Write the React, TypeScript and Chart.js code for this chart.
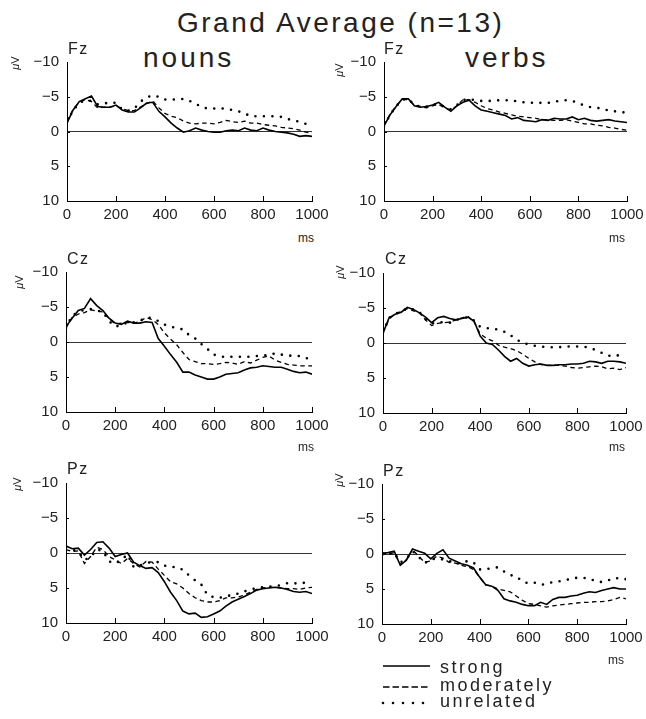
import React, { useEffect, useRef } from "react";
import { Chart, registerables } from "chart.js";

Chart.register(...registerables);
Chart.defaults.font.family = "'Liberation Sans', Arial, sans-serif";

// ---------- DATA ----------
const TIMES = [
  0, 25, 50, 75, 100, 125, 150, 175, 200, 225, 250, 275, 300, 325, 350, 375, 400, 425, 450, 475,
  500, 525, 550, 575, 600, 625, 650, 675, 700, 725, 750, 775, 800, 825, 850, 875, 900, 925, 950, 975, 1000,
];
const X_TICKS = [0, 200, 400, 600, 800, 1000];
const Y_TICKS = [-10, -5, 0, 5, 10];
const CONDITIONS = ["strong", "moderately", "unrelated"];
const TITLE = "Grand Average (n=13)";
const COLUMN_TITLES = ["nouns", "verbs"];

const FZ_NOUNS_STRONG = [-1.2, -3.1, -4.3, -4.7, -5.1, -3.6, -3.5, -3.5, -3.8, -3.1, -2.8, -2.8, -3.4, -4.1, -4.2, -2.9, -2.1, -1.2, -0.5, 0.1, -0.1, -0.5, -0.2, 0, 0.1, 0.1, -0.1, -0.2, -0.1, -0.5, -0.2, -0.1, -0.5, -0.2, 0, 0.1, 0.2, 0.4, 0.7, 0.6, 0.7];
const FZ_NOUNS_MOD = [-1.5, -3.2, -4.2, -4.6, -4.3, -3.4, -3.5, -3.5, -3.7, -3.3, -3.0, -3.0, -3.5, -4.0, -4.4, -3.4, -2.6, -2.2, -2.0, -1.5, -1.2, -1.1, -1.2, -1.2, -1.1, -1.3, -1.6, -1.4, -1.3, -1.5, -1.2, -1.2, -1.0, -0.9, -0.8, -0.6, -0.5, -0.4, -0.2, 0.1, 0.2];
const FZ_NOUNS_UNREL = [-1.4, -3.0, -4.1, -4.5, -4.4, -3.9, -4.0, -4.2, -4.1, -3.2, -3.0, -3.3, -4.3, -4.9, -5.2, -5.0, -4.6, -4.6, -4.6, -4.7, -4.4, -4.0, -3.5, -3.3, -3.3, -3.4, -3.2, -3.1, -2.9, -2.6, -2.2, -2.2, -2.2, -2.2, -2.2, -2.1, -1.8, -1.6, -1.4, -1.1, -1.0];

const FZ_VERBS_STRONG = [-0.8, -2.4, -3.6, -4.7, -4.7, -3.7, -3.5, -3.6, -3.8, -4.2, -3.5, -2.9, -3.7, -4.2, -4.5, -3.7, -3.1, -2.9, -2.7, -2.5, -2.3, -1.8, -2.0, -1.6, -1.5, -1.4, -1.7, -1.6, -1.9, -1.8, -1.8, -2.1, -1.7, -1.9, -1.6, -1.5, -1.6, -1.7, -1.5, -1.4, -1.3];
const FZ_VERBS_MOD = [-0.9, -2.5, -3.7, -4.6, -4.6, -3.8, -3.6, -3.4, -3.7, -3.9, -3.4, -3.1, -3.7, -4.6, -4.6, -4.2, -3.7, -3.3, -3.1, -2.8, -2.6, -2.4, -2.2, -2.1, -2.0, -1.9, -1.7, -1.7, -1.6, -1.6, -1.7, -1.5, -1.3, -1.1, -1.1, -0.9, -0.8, -0.6, -0.5, -0.3, -0.2];
const FZ_VERBS_UNREL = [-0.8, -2.4, -3.6, -4.6, -4.7, -3.8, -3.6, -3.6, -3.8, -4.0, -3.5, -3.2, -3.8, -4.5, -4.7, -4.5, -4.4, -4.4, -4.4, -4.5, -4.5, -4.5, -4.3, -4.2, -4.1, -4.2, -4.1, -4.1, -4.3, -4.4, -4.5, -4.4, -4.1, -3.7, -3.5, -3.4, -3.3, -3.0, -2.9, -2.8, -2.7];

const CZ_NOUNS_STRONG = [-2.2, -3.4, -4.5, -4.8, -6.2, -5.2, -4.5, -3.4, -2.7, -2.5, -3.0, -2.7, -2.7, -2.9, -2.8, -0.5, 0.6, 1.8, 2.9, 4.3, 4.3, 4.7, 5.0, 5.3, 5.3, 5.0, 4.6, 4.5, 4.4, 4.0, 3.7, 3.6, 3.4, 3.5, 3.6, 3.6, 3.9, 4.2, 4.4, 4.3, 4.6];
const CZ_NOUNS_MOD = [-2.0, -3.5, -4.0, -4.2, -4.6, -4.4, -4.3, -3.3, -2.6, -2.7, -2.8, -2.7, -2.9, -3.5, -3.2, -2.5, -1.3, -0.4, 0.4, 1.5, 2.5, 2.8, 3.1, 3.1, 3.2, 3.1, 2.9, 3.0, 3.2, 2.8, 3.0, 2.6, 2.2, 2.0, 2.6, 2.9, 3.2, 3.3, 3.4, 3.4, 3.4];
const CZ_NOUNS_UNREL = [-2.0, -3.8, -4.3, -4.6, -4.7, -4.5, -4.3, -3.0, -2.2, -2.4, -2.8, -2.8, -3.0, -3.5, -3.4, -3.0, -2.5, -2.2, -2.0, -1.8, -1.0, -0.5, 0.3, 1.0, 1.8, 2.0, 2.2, 2.1, 2.1, 2.1, 2.1, 2.0, 1.9, 1.9, 1.6, 1.8, 1.9, 2.0, 2.0, 2.3, 2.4];

const CZ_VERBS_STRONG = [-1.4, -3.6, -4.1, -4.4, -5.1, -4.8, -4.3, -3.7, -2.9, -3.6, -3.8, -3.5, -3.3, -3.5, -3.7, -3.1, -1.0, 0, 0.2, 1.0, 1.9, 2.6, 2.2, 2.9, 3.3, 3.1, 3.0, 3.2, 3.2, 3.1, 3.1, 3.0, 3.0, 2.9, 2.6, 2.7, 2.9, 2.6, 2.6, 2.7, 2.9];
const CZ_VERBS_MOD = [-1.5, -3.4, -4.2, -4.5, -4.9, -4.6, -4.3, -3.3, -2.5, -2.8, -2.9, -3.0, -3.3, -3.6, -3.8, -3.0, -1.3, -0.7, -0.3, 0.3, 0.6, 0.8, 1.1, 1.6, 2.2, 2.7, 3.1, 3.2, 3.2, 3.2, 3.3, 3.5, 3.6, 3.5, 3.4, 3.3, 3.4, 3.7, 3.6, 3.8, 3.5];
const CZ_VERBS_UNREL = [-1.5, -3.6, -4.2, -4.4, -5.0, -4.8, -4.4, -3.4, -2.8, -2.9, -3.0, -2.9, -3.3, -3.5, -3.7, -3.2, -2.3, -2.1, -2.1, -1.9, -1.6, -1.1, -0.5, 0.0, 0.2, 0.4, 0.5, 0.6, 0.6, 0.6, 0.5, 0.5, 0.5, 0.5, 0.7, 1.0, 1.4, 1.8, 1.9, 1.7, 1.6];

const PZ_NOUNS_STRONG = [-1.0, -0.6, -0.7, 0.3, -0.5, -1.5, -1.6, -0.7, 0.5, 0.2, 0, 1.3, 1.8, 2.2, 2.1, 2.8, 4.1, 5.6, 6.8, 8.3, 8.7, 8.6, 9.2, 9.1, 8.7, 8.3, 7.6, 7.0, 6.6, 6.2, 5.8, 5.3, 5.1, 5.0, 4.9, 5.0, 5.2, 5.5, 5.6, 5.5, 5.8];
const PZ_NOUNS_MOD = [-0.5, -0.2, -0.3, 1.5, 0.5, -0.8, -0.5, 0.5, 1.0, 1.5, 0.8, 1.5, 2.0, 1.2, 1.3, 2.3, 3.2, 4.1, 4.4, 5.0, 5.8, 6.4, 6.8, 7.0, 7.0, 6.8, 6.4, 6.4, 6.3, 6.0, 5.6, 5.2, 5.0, 4.9, 4.9, 5.0, 5.1, 5.1, 5.2, 5.0, 4.9];
const PZ_NOUNS_UNREL = [-0.3, -0.5, -0.2, 1.0, 0.6, -0.5, -0.3, 1.2, 1.5, 1.0, 0.2, 2.0, 1.8, 1.4, 1.3, 1.3, 1.8, 2.0, 2.0, 2.4, 3.2, 3.9, 4.5, 6.0, 6.3, 6.4, 6.2, 6.0, 5.8, 5.5, 5.2, 5.0, 4.9, 4.8, 4.7, 4.6, 4.3, 4.4, 4.2, 4.3, 4.2];

const PZ_VERBS_STRONG = [-0.1, -0.2, -0.4, 1.6, 0.9, -0.7, -0.4, -0.1, 0.7, -0.1, -0.6, 0.6, 1.0, 1.4, 1.6, 2.0, 3.3, 4.4, 4.6, 5.2, 6.4, 6.7, 6.9, 7.2, 7.4, 7.4, 6.9, 7.2, 6.5, 6.2, 6.2, 6.0, 5.9, 5.6, 5.4, 5.5, 5.2, 5.0, 4.8, 5.0, 5.0];
const PZ_VERBS_MOD = [-0.2, 0.1, -0.2, 1.5, 0.8, -0.6, 0.3, 1.2, 1.0, 0.3, 0.6, 1.2, 1.3, 1.6, 1.8, 2.2, 3.3, 4.4, 4.6, 5.0, 5.2, 5.4, 6.0, 6.6, 7.1, 7.2, 7.4, 7.6, 7.4, 7.3, 7.2, 7.1, 7.0, 6.9, 6.9, 6.8, 6.8, 6.7, 6.5, 6.2, 6.4];
const PZ_VERBS_UNREL = [0.2, 0, -0.2, 1.2, 0.7, -0.4, 0.4, 1.3, 0.8, 0.6, 0.8, 1.0, 1.2, 1.4, 1.0, 1.2, 2.2, 2.2, 2.0, 1.9, 2.5, 3.0, 3.2, 3.9, 4.2, 4.1, 4.4, 4.3, 4.0, 3.9, 3.8, 3.5, 3.4, 3.4, 3.5, 3.9, 4.0, 3.8, 3.4, 3.5, 3.6];

// ---------- STYLE / LAYOUT ----------
const FONT = "'Liberation Sans', Arial, sans-serif";
const TEXT_COLOR = "#222";

const LINE_STYLES = [
  { borderColor: "#000", borderWidth: 1.6, borderDash: [] as number[], borderCapStyle: "butt" },
  { borderColor: "#000", borderWidth: 1.3, borderDash: [4.5, 3.5], borderCapStyle: "butt" },
  { borderColor: "#000", borderWidth: 2.6, borderDash: [0, 8.5], borderCapStyle: "round" },
];

const PANELS = [
  { electrode: "Fz", series: [FZ_NOUNS_STRONG, FZ_NOUNS_MOD, FZ_NOUNS_UNREL], left: 67, top: 62, w: 245, h: 139, lab: [68, 55], mu: [15, 63], ms: [306, 238] },
  { electrode: "Fz", series: [FZ_VERBS_STRONG, FZ_VERBS_MOD, FZ_VERBS_UNREL], left: 384, top: 62, w: 243, h: 139, lab: [384, 55], mu: [339, 70], ms: [617, 238] },
  { electrode: "Cz", series: [CZ_NOUNS_STRONG, CZ_NOUNS_MOD, CZ_NOUNS_UNREL], left: 66, top: 272, w: 246, h: 140, lab: [67, 265], mu: [19, 282], ms: [306, 447] },
  { electrode: "Cz", series: [CZ_VERBS_STRONG, CZ_VERBS_MOD, CZ_VERBS_UNREL], left: 383, top: 273, w: 243, h: 140, lab: [385, 265], mu: [340, 272], ms: [617, 447] },
  { electrode: "Pz", series: [PZ_NOUNS_STRONG, PZ_NOUNS_MOD, PZ_NOUNS_UNREL], left: 66, top: 483, w: 246, h: 140, lab: [67, 475], mu: [17, 484], ms: null },
  { electrode: "Pz", series: [PZ_VERBS_STRONG, PZ_VERBS_MOD, PZ_VERBS_UNREL], left: 382, top: 484, w: 244, h: 140, lab: [383, 477], mu: [339, 480], ms: [616, 660] },
];

const PAD_L = 55;
const PAD_T = 12;
const PAD_R = 26;
const PAD_B = 30;

const innerTicks = {
  id: "innerTicks",
  afterDatasetsDraw(chart: any) {
    const { ctx, chartArea, scales } = chart;
    const x = scales.x;
    const y = scales.y;
    ctx.save();
    ctx.strokeStyle = "#000";
    ctx.lineWidth = 1;
    ctx.beginPath();
    X_TICKS.slice(1).forEach((v) => {
      const px = Math.round(x.getPixelForValue(v)) + 0.5;
      ctx.moveTo(px, chartArea.bottom);
      ctx.lineTo(px, chartArea.bottom - 5);
    });
    Y_TICKS.slice(1, -1).forEach((v) => {
      const py = Math.round(y.getPixelForValue(v)) + 0.5;
      ctx.moveTo(chartArea.left, py);
      ctx.lineTo(chartArea.left + 3, py);
    });
    ctx.stroke();
    ctx.restore();
  },
};

function Panel({ series, left, top, w, h }: { series: number[][]; left: number; top: number; w: number; h: number }) {
  const ref = useRef<HTMLCanvasElement | null>(null);
  const cw = PAD_L + w + PAD_R;
  const ch = PAD_T + h + PAD_B;
  useEffect(() => {
    if (!ref.current) return;
    const chart = new Chart(ref.current, {
      type: "line",
      data: {
        datasets: series.map((vals, i) => ({
          label: CONDITIONS[i],
          data: TIMES.map((t, j) => ({ x: t, y: vals[j] })),
          ...LINE_STYLES[i],
          pointRadius: 0,
          tension: 0,
          fill: false,
        })) as any,
      },
      options: {
        responsive: false,
        animation: false,
        devicePixelRatio: 1,
        layout: { padding: { left: 0, top: PAD_T, right: PAD_R, bottom: 0 } },
        plugins: { legend: { display: false }, tooltip: { enabled: false }, title: { display: false } },
        scales: {
          x: {
            type: "linear",
            min: 0,
            max: 1000,
            afterBuildTicks: (s: any) => {
              s.ticks = X_TICKS.map((v) => ({ value: v }));
            },
            ticks: {
              padding: 5,
              maxRotation: 0,
              autoSkip: false,
              color: TEXT_COLOR,
              font: { family: FONT, size: 15 },
              callback: (v: any) => String(v),
            },
            grid: { display: false, drawTicks: false },
            border: { display: true, color: "#000", width: 1 },
            afterFit: (s: any) => {
              s.height = PAD_B;
              s.paddingLeft = 0;
              s.paddingRight = 0;
            },
          },
          y: {
            type: "linear",
            reverse: true,
            min: -10,
            max: 10,
            afterBuildTicks: (s: any) => {
              s.ticks = Y_TICKS.map((v) => ({ value: v }));
            },
            ticks: {
              padding: 8,
              color: TEXT_COLOR,
              font: { family: FONT, size: 15 },
              callback: (v: any) => (Number(v) < 0 ? "\u2212" + Math.abs(Number(v)) : String(v)),
            },
            grid: {
              display: true,
              drawTicks: false,
              lineWidth: 1,
              color: (c: any) => (c.tick && c.tick.value === 0 ? "#333" : "rgba(0,0,0,0)"),
            },
            border: { display: true, color: "#000", width: 1 },
            afterFit: (s: any) => {
              s.width = PAD_L;
              s.paddingTop = 0;
              s.paddingBottom = 0;
            },
          },
        },
      } as any,
      plugins: [innerTicks],
    });
    return () => chart.destroy();
  }, []);
  return (
    <canvas
      ref={ref}
      width={cw}
      height={ch}
      style={{ position: "absolute", left: left - PAD_L, top: top - PAD_T, width: cw, height: ch }}
    />
  );
}

// text positioned by baseline (line-height = font size)
function Txt({ x, y, size, spacing = 0, children }: any) {
  return (
    <div
      style={{
        position: "absolute",
        left: x,
        top: y - 0.8465 * size,
        fontSize: size,
        lineHeight: `${size}px`,
        letterSpacing: spacing,
        whiteSpace: "nowrap",
        color: TEXT_COLOR,
      }}
    >
      {children}
    </div>
  );
}

function Centered({ x, y, size, rotate = 0, children }: any) {
  return (
    <div
      style={{
        position: "absolute",
        left: x,
        top: y,
        fontSize: size,
        lineHeight: `${size}px`,
        whiteSpace: "nowrap",
        color: TEXT_COLOR,
        transform: `translate(-50%, -50%) rotate(${rotate}deg)`,
      }}
    >
      {children}
    </div>
  );
}

export default function App() {
  const legendY = [666, 687, 703];
  const legendBase = [673, 691, 707];
  return (
    <div
      style={{
        position: "absolute",
        left: 0,
        top: 0,
        width: 646,
        height: 719,
        background: "#fff",
        fontFamily: FONT,
        overflow: "hidden",
      }}
    >
      <Txt x={177} y={33} size={28} spacing={2.5}>{TITLE}</Txt>
      <Txt x={143} y={68} size={28} spacing={3}>{COLUMN_TITLES[0]}</Txt>
      <Txt x={465} y={68} size={28} spacing={3}>{COLUMN_TITLES[1]}</Txt>

      {PANELS.map((p, i) => (
        <React.Fragment key={i}>
          <Panel series={p.series} left={p.left} top={p.top} w={p.w} h={p.h} />
          <Txt x={p.lab[0]} y={p.lab[1]} size={16} spacing={1.5}>{p.electrode}</Txt>
          <Centered x={p.mu[0]} y={p.mu[1]} size={11} rotate={-90}>
            <span style={{ fontStyle: "italic" }}>μ</span>V
          </Centered>
          {p.ms ? (
            <Centered x={p.ms[0]} y={p.ms[1]} size={12}>ms</Centered>
          ) : null}
        </React.Fragment>
      ))}

      {CONDITIONS.map((c, i) => (
        <React.Fragment key={c}>
          <svg
            width={50}
            height={8}
            style={{ position: "absolute", left: 381, top: legendY[i] - 4 }}
          >
            <line
              x1={2}
              y1={4}
              x2={49}
              y2={4}
              stroke="#000"
              strokeWidth={LINE_STYLES[i].borderWidth}
              strokeDasharray={i === 1 ? "6.5 3" : i === 2 ? "0 10" : undefined}
              strokeLinecap={i === 2 ? "round" : "butt"}
            />
          </svg>
          <Txt x={440} y={legendBase[i]} size={18} spacing={2.5}>{c}</Txt>
        </React.Fragment>
      ))}
    </div>
  );
}
